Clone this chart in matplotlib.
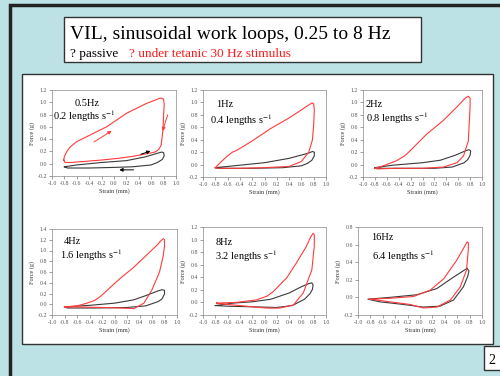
import matplotlib.pyplot as plt
from matplotlib.patches import Rectangle

plt.rcParams['font.family'] = ['Liberation Serif', 'DejaVu Serif']
plt.rcParams['mathtext.fontset'] = 'stix'

W, H = 500, 376

# loop data: strain (mm), force (g)
red_x_05 = [-0.81, -0.80, -0.76, -0.71, -0.6, -0.44, -0.12, 0.2, 0.52, 0.7, 0.76, 0.80, 0.81, 0.80, 0.79, 0.76, 0.72, 0.66, 0.52, 0.3, 0.09, -0.2, -0.44, -0.7, -0.79, -0.81]
red_y_05 = [0.06, 0.12, 0.20, 0.27, 0.36, 0.44, 0.60, 0.82, 0.98, 1.05, 1.07, 1.05, 0.95, 0.80, 0.55, 0.30, 0.23, 0.19, 0.16, 0.12, 0.09, 0.06, 0.04, 0.02, 0.02, 0.06]
blk_x_05 = [-0.8, -0.6, -0.2, 0.2, 0.5, 0.7, 0.77, 0.80, 0.81, 0.78, 0.7, 0.6, 0.3, 0.0, -0.4, -0.75, -0.8]
blk_y_05 = [-0.05, -0.02, 0.02, 0.05, 0.11, 0.17, 0.19, 0.18, 0.13, 0.07, 0.02, -0.02, -0.05, -0.06, -0.07, -0.07, -0.05]

red_x_1 = [-0.8, -0.7, -0.6, -0.52, -0.45, -0.2, 0.1, 0.4, 0.6, 0.72, 0.77, 0.8, 0.81, 0.80, 0.78, 0.72, 0.6, 0.4, 0.0, -0.4, -0.75, -0.8]
red_y_1 = [-0.05, 0.05, 0.14, 0.20, 0.23, 0.38, 0.58, 0.75, 0.88, 0.96, 0.99, 0.98, 0.88, 0.65, 0.40, 0.20, 0.05, -0.03, -0.05, -0.06, -0.06, -0.05]
blk_x_1 = [-0.8, -0.5, 0.0, 0.4, 0.7, 0.78, 0.81, 0.81, 0.77, 0.7, 0.6, 0.3, -0.2, -0.75, -0.8]
blk_y_1 = [-0.05, -0.02, 0.03, 0.10, 0.18, 0.21, 0.20, 0.14, 0.07, 0.02, -0.02, -0.05, -0.06, -0.06, -0.05]

red_x_2 = [-0.8, -0.66, -0.44, -0.3, -0.21, 0.07, 0.35, 0.58, 0.72, 0.77, 0.80, 0.80, 0.79, 0.77, 0.69, 0.58, 0.35, 0.01, -0.44, -0.76, -0.8]
red_y_2 = [-0.06, -0.02, 0.06, 0.14, 0.22, 0.49, 0.71, 0.93, 1.07, 1.10, 1.07, 0.95, 0.75, 0.38, 0.14, 0.03, -0.04, -0.06, -0.06, -0.07, -0.06]
blk_x_2 = [-0.8, -0.5, 0.0, 0.3, 0.55, 0.72, 0.78, 0.81, 0.80, 0.76, 0.7, 0.5, 0.2, -0.3, -0.75, -0.8]
blk_y_2 = [-0.05, -0.01, 0.03, 0.07, 0.15, 0.22, 0.24, 0.22, 0.15, 0.08, 0.03, -0.04, -0.06, -0.06, -0.06, -0.05]

red_x_4 = [-0.8, -0.6, -0.44, -0.32, -0.23, 0.09, 0.3, 0.5, 0.68, 0.74, 0.78, 0.80, 0.80, 0.78, 0.72, 0.6, 0.47, 0.31, 0.1, -0.2, -0.6, -0.8]
red_y_4 = [-0.05, -0.03, 0.02, 0.07, 0.14, 0.48, 0.68, 0.90, 1.10, 1.18, 1.22, 1.20, 1.08, 0.90, 0.60, 0.27, 0.02, -0.08, -0.07, -0.06, -0.05, -0.05]
blk_x_4 = [-0.8, -0.4, 0.0, 0.3, 0.5, 0.7, 0.76, 0.80, 0.80, 0.76, 0.7, 0.5, 0.2, -0.3, -0.75, -0.8]
blk_y_4 = [-0.05, -0.02, 0.02, 0.08, 0.16, 0.25, 0.27, 0.26, 0.19, 0.10, 0.05, -0.03, -0.06, -0.07, -0.07, -0.05]

red_x_8 = [-0.78, -0.46, -0.13, 0.04, 0.14, 0.36, 0.52, 0.68, 0.75, 0.79, 0.81, 0.81, 0.77, 0.63, 0.47, 0.25, 0.03, -0.29, -0.73, -0.78]
red_y_8 = [-0.01, 0.0, 0.04, 0.10, 0.17, 0.39, 0.63, 0.89, 1.04, 1.10, 1.08, 0.90, 0.52, 0.15, -0.04, -0.09, -0.09, -0.06, -0.02, -0.01]
blk_x_8 = [-0.8, -0.5, -0.2, 0.1, 0.4, 0.6, 0.72, 0.77, 0.79, 0.78, 0.74, 0.65, 0.45, 0.2, -0.2, -0.6, -0.8]
blk_y_8 = [-0.05, -0.01, 0.01, 0.05, 0.15, 0.25, 0.30, 0.31, 0.28, 0.21, 0.14, 0.05, -0.05, -0.08, -0.07, -0.06, -0.05]

red_x_16 = [-0.81, -0.49, -0.11, 0.16, 0.38, 0.59, 0.72, 0.76, 0.78, 0.78, 0.75, 0.65, 0.49, 0.27, 0.05, -0.16, -0.49, -0.81]
red_y_16 = [-0.02, -0.01, 0.01, 0.08, 0.21, 0.42, 0.58, 0.63, 0.62, 0.55, 0.31, 0.12, -0.03, -0.11, -0.12, -0.08, -0.05, -0.02]
blk_x_16 = [0.76, 0.54, 0.27, -0.05, -0.49, -0.84, -0.65, -0.27, 0.05, 0.32, 0.54, 0.70, 0.77, 0.79, 0.76]
blk_y_16 = [0.33, 0.23, 0.10, 0.03, 0.0, -0.02, -0.05, -0.08, -0.11, -0.10, -0.03, 0.12, 0.24, 0.30, 0.33]

freq_labels = ['0.5Hz', '1Hz', '2Hz', '4Hz', '8Hz', '16Hz']
speed_labels = ['0.2', '0.4', '0.8', '1.6', '3.2', '6.4']
y_tops = [1.2, 1.2, 1.2, 1.4, 1.2, 0.8]

reds = [(red_x_05, red_y_05), (red_x_1, red_y_1), (red_x_2, red_y_2),
        (red_x_4, red_y_4), (red_x_8, red_y_8), (red_x_16, red_y_16)]
blacks = [(blk_x_05, blk_y_05), (blk_x_1, blk_y_1), (blk_x_2, blk_y_2),
          (blk_x_4, blk_y_4), (blk_x_8, blk_y_8), (blk_x_16, blk_y_16)]

# axes boxes in pixels: left, right, top, bottom
boxes = [(52, 176, 90, 176), (203, 326, 90, 177), (363, 482, 90, 177),
         (52, 177, 229, 315), (203, 326, 227, 315), (358, 482, 227, 315)]
freq_pos = [(-0.63, 0.98), (-0.78, 0.96), (-0.95, 0.97), (-0.81, 1.16), (-0.79, 0.95), (-0.78, 0.68)]
speed_pos = [(-0.98, 0.78), (-0.89, 0.72), (-0.95, 0.74), (-0.88, 0.91), (-0.81, 0.74), (-0.78, 0.47)]


def px_rect(x0, y0, x1, y1, **kw):
    return Rectangle((x0 / W, 1 - y1 / H), (x1 - x0) / W, (y1 - y0) / H,
                     transform=fig.transFigure, zorder=-5, **kw)


fig = plt.figure(figsize=(5, 3.76), dpi=100)
fig.patch.set_facecolor('#bde2e5')

# slide border, title box, white panel, page number
fig.patches.append(px_rect(10, 5, 503, 380, fill=False, ec='#222222', lw=2.5))
fig.patches.append(px_rect(64, 17, 421, 62, fc='white', ec='#333333', lw=1))
fig.patches.append(px_rect(22, 74, 493, 344, fc='white', ec='#333333', lw=1))
fig.patches.append(px_rect(484, 346, 503, 370, fc='white', ec='#333333', lw=1))
fig.text(70 / W, 1 - 39 / H, 'VIL, sinusoidal work loops, 0.25 to 8 Hz', fontsize=14, color='black')
fig.text(70 / W, 1 - 57 / H, '? passive', fontsize=9.5, color='black')
fig.text(129 / W, 1 - 57 / H, '? under tetanic 30 Hz stimulus', fontsize=9.5, color='#ff1a1a')
fig.text(492 / W, 1 - 364 / H, '2', fontsize=10, ha='center')

for i in range(6):
    l, r, t, b = boxes[i]
    ax = fig.add_axes([l / W, 1 - b / H, (r - l) / W, (b - t) / H])
    ax.plot(blacks[i][0], blacks[i][1], color='#3a3a3a', lw=0.8)
    ax.plot(reds[i][0], reds[i][1], color='#ff3b3b', lw=0.8)
    ax.set_xlim(-1.0, 1.0)
    ax.set_ylim(-0.2, y_tops[i])
    xt = [round(-1.0 + 0.2 * k, 1) for k in range(11)]
    ax.set_xticks(xt)
    ax.set_xticklabels(['%.1f' % v for v in xt])
    nt = int(round((y_tops[i] + 0.2) / 0.2)) + 1
    yt = [round(-0.2 + 0.2 * k, 1) for k in range(nt)]
    ax.set_yticks(yt)
    ax.set_yticklabels(['%.1f' % v for v in yt])
    ax.tick_params(labelsize=4.2, length=2, width=0.4, colors='#555555', pad=1.5)
    for s in ax.spines.values():
        s.set_color('#888888')
        s.set_linewidth(0.5)
    ax.set_xlabel('Strain (mm)', fontsize=4.5, labelpad=2, color='#333333')
    ax.set_ylabel('Force (g)', fontsize=4.5, labelpad=2, color='#333333')
    ax.text(freq_pos[i][0], freq_pos[i][1], freq_labels[i], fontsize=7.5, va='center')
    ax.text(speed_pos[i][0], speed_pos[i][1], speed_labels[i] + ' lengths s$^{-1}$',
            fontsize=7.5, va='center')
    if i == 0:
        ax.annotate('', xy=(0.0, 0.56), xytext=(-0.36, 0.33),
                    arrowprops=dict(arrowstyle='-|>', color='#ff3b3b', lw=0.7, mutation_scale=5))
        ax.annotate('', xy=(0.77, 0.49), xytext=(0.88, 0.84),
                    arrowprops=dict(arrowstyle='-|>', color='#ff3b3b', lw=0.7, mutation_scale=5))
        ax.annotate('', xy=(0.63, 0.22), xytext=(0.39, 0.14),
                    arrowprops=dict(arrowstyle='-|>', color='black', lw=0.7, mutation_scale=5))
        ax.annotate('', xy=(0.04, -0.10), xytext=(0.36, -0.10),
                    arrowprops=dict(arrowstyle='-|>', color='black', lw=0.7, mutation_scale=5))

plt.savefig('out.png', dpi=100)
